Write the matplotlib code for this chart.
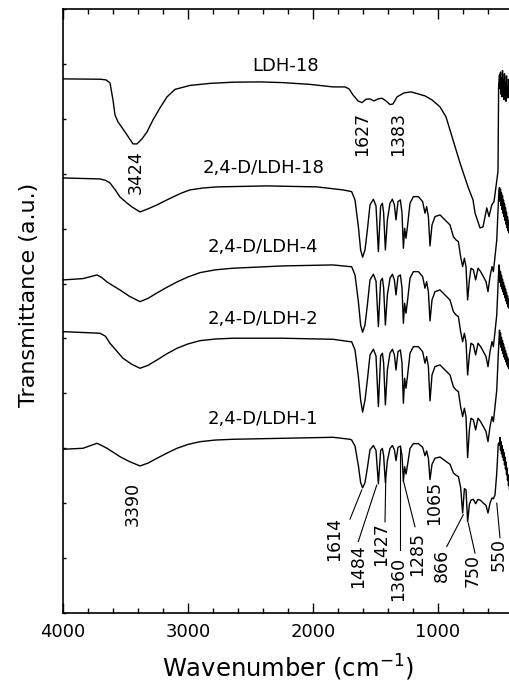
import numpy as np
import matplotlib
matplotlib.use("Agg")
import matplotlib.pyplot as plt
from matplotlib.ticker import MultipleLocator, NullFormatter

# --- data (wavenumber in cm-1, transmittance in a.u.) ---

# LDH-18 (top curve)
ldh18_wn = [4000, 3704, 3656, 3624, 3600, 3584, 3560, 3504, 3440, 3408,
            3368, 3328, 3280, 3224, 3168, 3104, 2984, 2824, 2640, 2424,
            2240, 2024, 1840, 1744, 1712, 1680, 1640, 1608, 1576, 1544,
            1512, 1480, 1448, 1416, 1384, 1360, 1328, 1272, 1216, 1160,
            1104, 1048, 984, 936, 880, 824, 760, 720, 704, 664,
            640, 610, 592, 570, 552, 530, 520, 515]
ldh18_t = [9.727, 9.721, 9.709, 9.654, 9.344, 9.071, 8.944, 8.761, 8.543, 8.543,
           8.634, 8.761, 8.980, 9.199, 9.399, 9.536, 9.608, 9.645, 9.667, 9.672,
           9.659, 9.627, 9.581, 9.581, 9.545, 9.435, 9.326, 9.295, 9.357, 9.362,
           9.326, 9.362, 9.375, 9.326, 9.259, 9.271, 9.399, 9.472, 9.490, 9.454,
           9.417, 9.344, 9.217, 9.035, 8.616, 8.197, 7.760, 7.523, 7.286, 7.013,
           7.031, 7.377, 7.219, 7.432, 7.492, 7.869, 8.051, 9.617]

# OH stretching region of the 2,4-D/LDH samples
d18_oh_wn = [4000, 3704, 3660, 3624, 3580, 3544, 3490, 3448, 3384, 3320, 3248,
             3180, 3120, 3050, 2984, 2880, 2768, 2368, 1968, 1760, 1704]
d18_oh_t = [7.923, 7.905, 7.880, 7.832, 7.700, 7.577, 7.470, 7.395, 7.304, 7.360, 7.432,
            7.510, 7.577, 7.650, 7.705, 7.740, 7.760, 7.778, 7.760, 7.705, 7.680]

d4_oh_wn = [4000, 3840, 3728, 3690, 3648, 3600, 3544, 3470, 3384, 3320,
            3248, 3170, 3088, 3000, 2904, 2780, 2640, 2240, 1840, 1704]
d4_oh_t = [6.066, 6.090, 6.157, 6.110, 6.029, 5.960, 5.883, 5.770, 5.670, 5.730,
           5.829, 5.930, 6.029, 6.120, 6.199, 6.250, 6.279, 6.321, 6.339, 6.308]

d2_oh_wn = [4000, 3704, 3660, 3624, 3570, 3520, 3450, 3384, 3320, 3248,
            3170, 3088, 3000, 2904, 2780, 2640, 2240, 1840, 1704]
d2_oh_t = [5.124, 5.095, 5.040, 4.913, 4.770, 4.639, 4.530, 4.457, 4.510, 4.608,
           4.720, 4.821, 4.900, 4.960, 4.990, 5.004, 5.004, 4.985, 4.941]

d1_oh_wn = [4000, 3840, 3728, 3690, 3648, 3600, 3544, 3470, 3384, 3320,
            3248, 3170, 3088, 3000, 2904, 2780, 2640, 2240, 1840, 1704]
d1_oh_t = [2.982, 3.000, 3.091, 3.050, 3.000, 2.930, 2.847, 2.760, 2.678, 2.730,
           2.818, 2.910, 3.000, 3.070, 3.120, 3.150, 3.164, 3.182, 3.200, 3.164]

# fingerprint region (shared wavenumbers)
fp_wn = [1691, 1664, 1637, 1619, 1603, 1584, 1565, 1544, 1517, 1496,
         1477, 1459, 1445, 1435, 1421, 1405, 1384, 1365, 1349, 1336,
         1320, 1301, 1288, 1277, 1267, 1256, 1243, 1224, 1197, 1157,
         1123, 1104, 1091, 1077, 1064, 1048, 1024, 984, 944, 904,
         877, 856, 837, 819, 803, 789, 776, 763, 749, 736,
         717, 699, 680, 659, 637, 616, 600, 584, 568, 557,
         544, 530, 518, 512]
d18_fp_t = [7.674, 7.523, 7.036, 6.612, 6.479, 6.612, 6.976, 7.432, 7.536, 7.413,
            6.581, 7.413, 7.463, 7.286, 6.612, 7.158, 7.463, 7.536, 7.432, 7.158,
            7.492, 7.523, 7.286, 6.643, 7.007, 6.825, 7.067, 7.463, 7.583, 7.583,
            7.492, 7.281, 7.401, 7.219, 6.685, 7.067, 7.219, 7.250, 7.158, 7.067,
            6.854, 6.794, 6.763, 6.490, 6.308, 6.461, 6.308, 5.701, 6.066, 6.279,
            6.248, 6.066, 6.279, 6.217, 6.126, 6.035, 5.852, 6.126, 6.308, 6.217,
            6.490, 6.794, 7.432, 7.705]
d4_fp_t = [6.308, 6.157, 5.670, 5.246, 5.113, 5.246, 5.610, 6.066, 6.170, 6.047,
           5.215, 6.047, 6.097, 5.920, 5.246, 5.792, 6.097, 6.170, 6.066, 5.792,
           6.126, 6.157, 5.920, 5.277, 5.641, 5.459, 5.701, 6.097, 6.217, 6.217,
           6.126, 5.915, 6.035, 5.853, 5.319, 5.701, 5.853, 5.884, 5.792, 5.701,
           5.488, 5.428, 5.397, 5.124, 4.942, 5.095, 4.942, 4.335, 4.700, 4.913,
           4.882, 4.700, 4.913, 4.851, 4.760, 4.669, 4.486, 4.760, 4.942, 4.851,
           5.124, 5.428, 6.066, 6.339]
d2_fp_t = [4.942, 4.791, 4.304, 3.880, 3.657, 3.880, 4.244, 4.700, 4.804, 4.681,
           3.759, 4.681, 4.731, 4.554, 3.790, 4.426, 4.731, 4.804, 4.700, 4.426,
           4.760, 4.791, 4.554, 3.821, 4.275, 4.093, 4.335, 4.731, 4.851, 4.851,
           4.760, 4.549, 4.669, 4.487, 3.863, 4.335, 4.487, 4.518, 4.426, 4.335,
           4.122, 4.062, 4.031, 3.758, 3.576, 3.729, 3.576, 2.829, 3.334, 3.547,
           3.516, 3.334, 3.547, 3.485, 3.394, 3.303, 3.120, 3.394, 3.576, 3.485,
           3.758, 4.062, 4.700, 4.973]
d1_fp_t = [3.151, 3.041, 2.685, 2.376, 2.279, 2.376, 2.641, 2.974, 3.050, 2.960,
           2.353, 2.960, 2.997, 2.868, 2.376, 2.774, 2.997, 3.050, 2.974, 2.774,
           3.018, 3.041, 2.868, 2.398, 2.664, 2.531, 2.708, 2.997, 3.085, 3.085,
           3.018, 2.864, 2.952, 2.819, 2.429, 2.708, 2.819, 2.841, 2.774, 2.708,
           2.552, 2.509, 2.486, 2.287, 1.821, 2.266, 2.240, 1.663, 1.977, 2.058,
           2.070, 1.990, 2.070, 2.050, 2.000, 1.960, 1.821, 2.000, 2.095, 2.080,
           2.149, 2.550, 3.080, 3.100]

# noisy low-wavenumber end
noise_wn = [508, 504, 500, 496, 492, 488, 484, 480, 476, 472,
            468, 464, 460, 456, 452, 448, 444, 440, 436, 432,
            428, 424, 420, 416, 412, 408, 404, 400]
ldh18_noise = [9.80, 9.55, 9.85, 9.45, 9.75, 9.40, 9.88, 9.52, 9.70, 9.35,
               9.82, 9.48, 9.66, 9.32, 9.78, 9.46, 9.60, 9.38, 9.72, 9.42,
               9.58, 9.35, 9.65, 9.40, 9.55, 9.33, 9.60, 9.45]
d18_noise = [7.75, 7.50, 7.72, 7.42, 7.65, 7.35, 7.60, 7.28, 7.52, 7.22,
             7.45, 7.15, 7.38, 7.08, 7.30, 7.02, 7.22, 6.96, 7.15, 6.92,
             7.08, 6.88, 7.02, 6.85, 6.98, 6.82, 6.95, 6.85]
d4_noise = [6.25, 6.02, 6.22, 5.95, 6.15, 5.90, 6.08, 5.85, 6.02, 5.80,
            5.96, 5.74, 5.90, 5.68, 5.84, 5.63, 5.78, 5.58, 5.72, 5.55,
            5.68, 5.52, 5.64, 5.50, 5.60, 5.48, 5.58, 5.50]
d2_noise = [5.15, 4.90, 5.10, 4.84, 5.02, 4.78, 4.96, 4.72, 4.90, 4.66,
            4.84, 4.62, 4.78, 4.57, 4.72, 4.52, 4.66, 4.48, 4.62, 4.45,
            4.58, 4.42, 4.55, 4.40, 4.52, 4.38, 4.50, 4.42]
d1_noise = [3.05, 3.20, 2.96, 3.12, 2.90, 3.05, 2.84, 2.98, 2.78, 2.92,
            2.70, 2.84, 2.62, 2.75, 2.52, 2.64, 2.42, 2.52, 2.32, 2.42,
            2.25, 2.35, 2.18, 2.28, 2.12, 2.22, 2.08, 2.15]

# curve labels: text, wavenumber, y
curve_labels = [("LDH-18", 2220, 9.96),
                ("2,4-D/LDH-18", 2392, 8.10),
                ("2,4-D/LDH-4", 2400, 6.66),
                ("2,4-D/LDH-2", 2400, 5.36),
                ("2,4-D/LDH-1", 2400, 3.53)]

# peak labels (vertical): text, wavenumber, y
peak_labels = [("3424", 3416, 8.03), ("1627", 1608, 8.72), ("1383", 1320, 8.72),
               ("3390", 3440, 1.99), ("1614", 1832, 1.35), ("1484", 1640, 0.86),
               ("1427", 1456, 1.26), ("1360", 1320, 0.62), ("1285", 1168, 1.08),
               ("1065", 1028, 2.00), ("866", 972, 0.86), ("750", 724, 0.78),
               ("550", 516, 1.06)]

# leader lines: (wn0, y0, wn1, y1)
leaders = [(1704, 1.71, 1610, 2.24), (1638, 1.30, 1490, 2.33),
           (1424, 1.66, 1418, 2.42), (1304, 1.15, 1304, 3.02),
           (1184, 1.57, 1278, 2.42), (930, 1.21, 798, 1.79),
           (704, 1.09, 758, 1.64), (504, 1.37, 530, 2.00)]

plt.rcParams['font.family'] = 'DejaVu Sans'

fig = plt.figure(figsize=(5.1, 6.86), dpi=100)
ax = fig.add_axes([0.1235, 0.1064, 0.8824, 0.8805])

ax.plot(ldh18_wn + noise_wn, ldh18_t + ldh18_noise, color='black', lw=1.0)
for oh_wn, oh_t, fp_t, nz in [(d18_oh_wn, d18_oh_t, d18_fp_t, d18_noise),
                              (d4_oh_wn, d4_oh_t, d4_fp_t, d4_noise),
                              (d2_oh_wn, d2_oh_t, d2_fp_t, d2_noise),
                              (d1_oh_wn, d1_oh_t, d1_fp_t, d1_noise)]:
    wn = np.concatenate([oh_wn, fp_wn, noise_wn])
    t = np.concatenate([oh_t, fp_t, nz])
    ax.plot(wn, t, color='black', lw=1.0)

for txt, x, y in curve_labels:
    ax.text(x, y, txt, fontsize=13, ha='center', va='center')
for txt, x, y in peak_labels:
    ax.text(x, y, txt, fontsize=12.5, rotation=90, ha='center', va='center')
for x0, y0, x1, y1 in leaders:
    ax.plot([x0, x1], [y0, y1], color='black', lw=0.8)

ax.set_xlim(4000, 400)
ax.set_ylim(0, 11)
ax.xaxis.set_major_locator(MultipleLocator(1000))
ax.xaxis.set_minor_locator(MultipleLocator(200))
ax.yaxis.set_major_locator(MultipleLocator(1))
ax.yaxis.set_major_formatter(NullFormatter())
ax.tick_params(axis='x', which='major', direction='in', length=7, width=1,
               top=True, labelsize=13, pad=7)
ax.tick_params(axis='x', which='minor', direction='in', length=3.6, width=1, top=True)
ax.tick_params(axis='y', which='major', direction='in', length=2.5, width=1,
               left=True, right=False)
for s in ax.spines.values():
    s.set_linewidth(1.2)

ax.set_xlabel('Wavenumber (cm$^{-1}$)', fontsize=17.5, labelpad=9)
ax.set_ylabel('Transmittance (a.u.)', fontsize=16)
ax.yaxis.set_label_coords(-0.053, 0.5265)

fig.savefig('out.png', dpi=100)
